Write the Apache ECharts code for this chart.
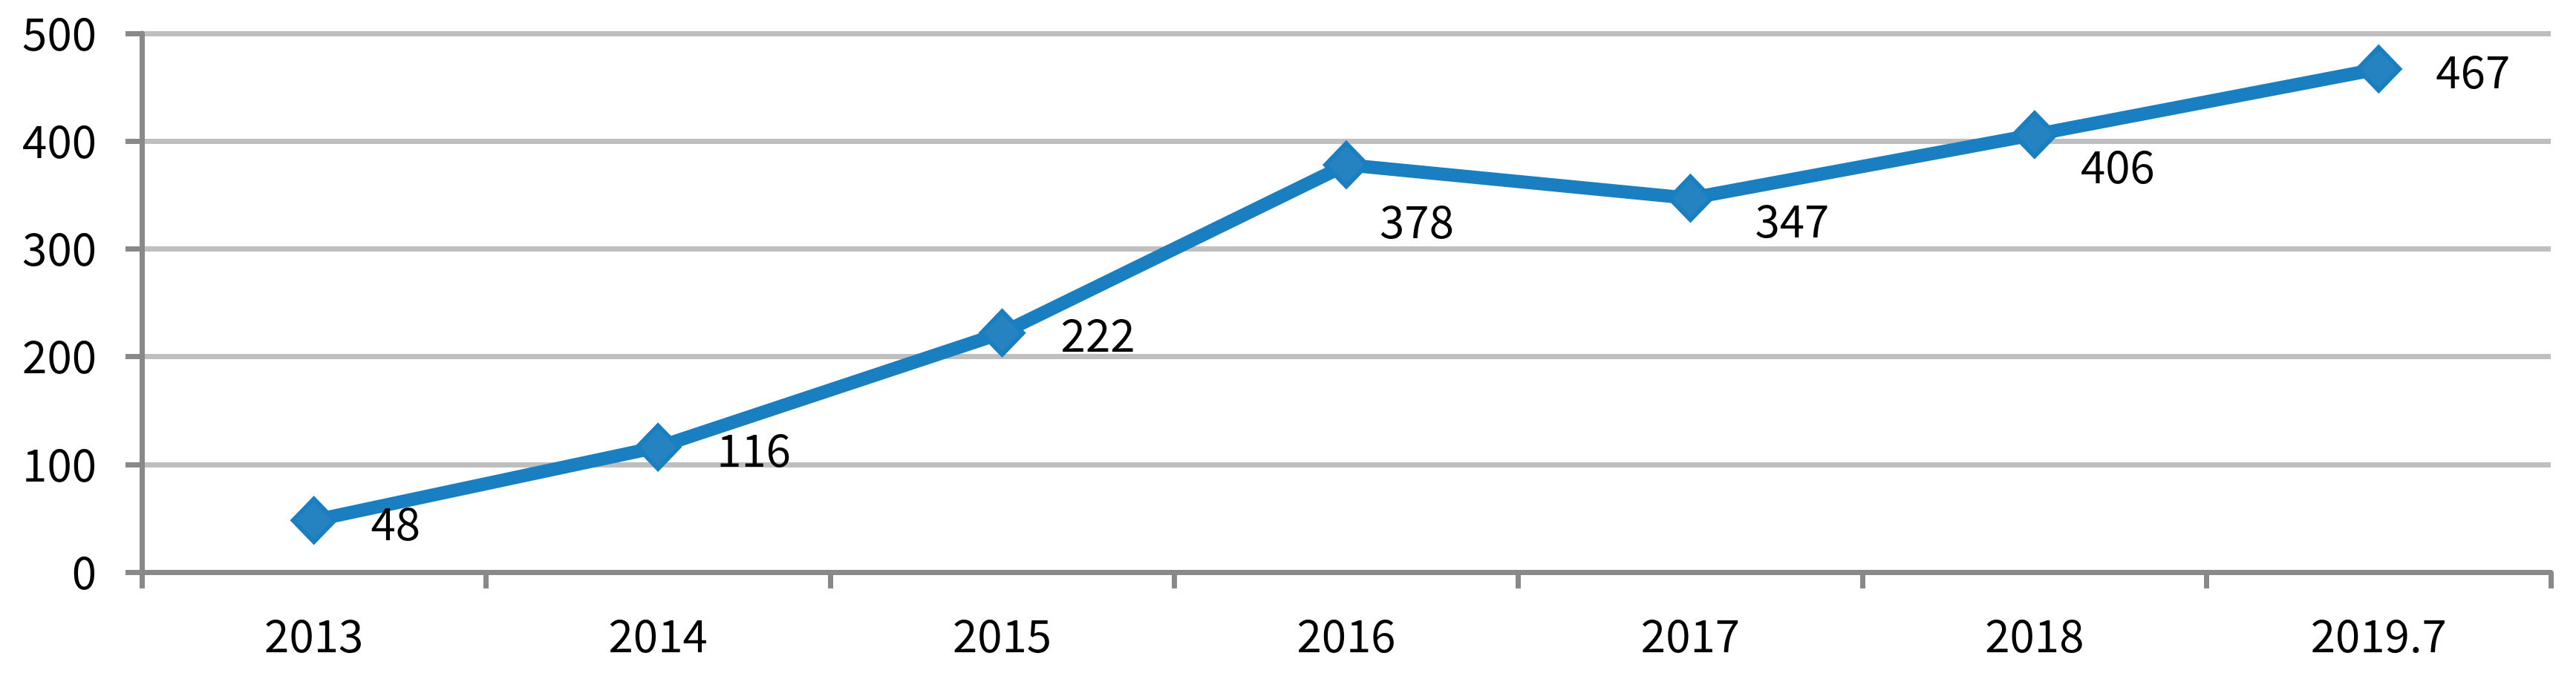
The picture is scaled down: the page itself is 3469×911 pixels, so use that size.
<!DOCTYPE html>
<html>
<head>
<meta charset="utf-8">
<script src="https://cdn.jsdelivr.net/npm/echarts@6/dist/echarts.min.js"></script>
<style>
html,body{margin:0;padding:0;background:#fff;}
#chart{width:3469px;height:911px;}
</style>
</head>
<body>
<div id="chart"></div>
<script>
const categories = ['2013', '2014', '2015', '2016', '2017', '2018', '2019.7'];
const values = [48, 116, 222, 378, 347, 406, 467];
const yTicks = [0, 100, 200, 300, 400, 500];

// label offsets (style only): [dx, dy] from each marker centre
const labelOffsets = [[110, 4], [129, 4], [129, 3], [95, 76], [137, 30], [112, 43], [127, 3]];

const FONT = '"Noto Sans CJK KR", "Noto Sans", sans-serif';
const AXIS_COLOR = '#898989';

const chart = echarts.init(document.getElementById('chart'), null, {renderer: 'canvas'});
chart.setOption({
  animation: false,
  backgroundColor: '#ffffff',
  grid: {left: 191, right: 34, top: 45, bottom: 140, containLabel: false},
  xAxis: {
    type: 'category',
    data: categories,
    boundaryGap: true,
    axisLine: {show: true, lineStyle: {color: AXIS_COLOR, width: 7}},
    axisTick: {show: true, length: 22, lineStyle: {color: AXIS_COLOR, width: 7}},
    axisLabel: {color: '#000', fontSize: 60, fontFamily: FONT, margin: 55},
    splitLine: {show: false}
  },
  yAxis: {
    type: 'value',
    min: yTicks[0],
    max: yTicks[yTicks.length - 1],
    interval: yTicks[1] - yTicks[0],
    axisLine: {show: true, lineStyle: {color: AXIS_COLOR, width: 7}},
    axisTick: {show: true, length: 22, lineStyle: {color: AXIS_COLOR, width: 7}},
    axisLabel: {color: '#000', fontSize: 60, fontFamily: FONT, margin: 61},
    splitLine: {show: true, lineStyle: {color: '#bfbfbf', width: 7}}
  },
  series: [{
    type: 'line',
    data: values.map((v, i) => ({
      value: v,
      label: {offset: labelOffsets[i]}
    })),
    lineStyle: {color: '#1a7fc0', width: 18},
    symbol: 'diamond',
    symbolSize: [56, 58],
    itemStyle: {color: '#2683c2', borderColor: '#1a7fc0', borderWidth: 6},
    label: {
      show: true,
      position: 'inside',
      color: '#000',
      fontSize: 60,
      fontFamily: FONT,
      align: 'center',
      verticalAlign: 'middle'
    },
    emphasis: {disabled: true},
    z: 5
  }]
});
</script>
</body>
</html>
